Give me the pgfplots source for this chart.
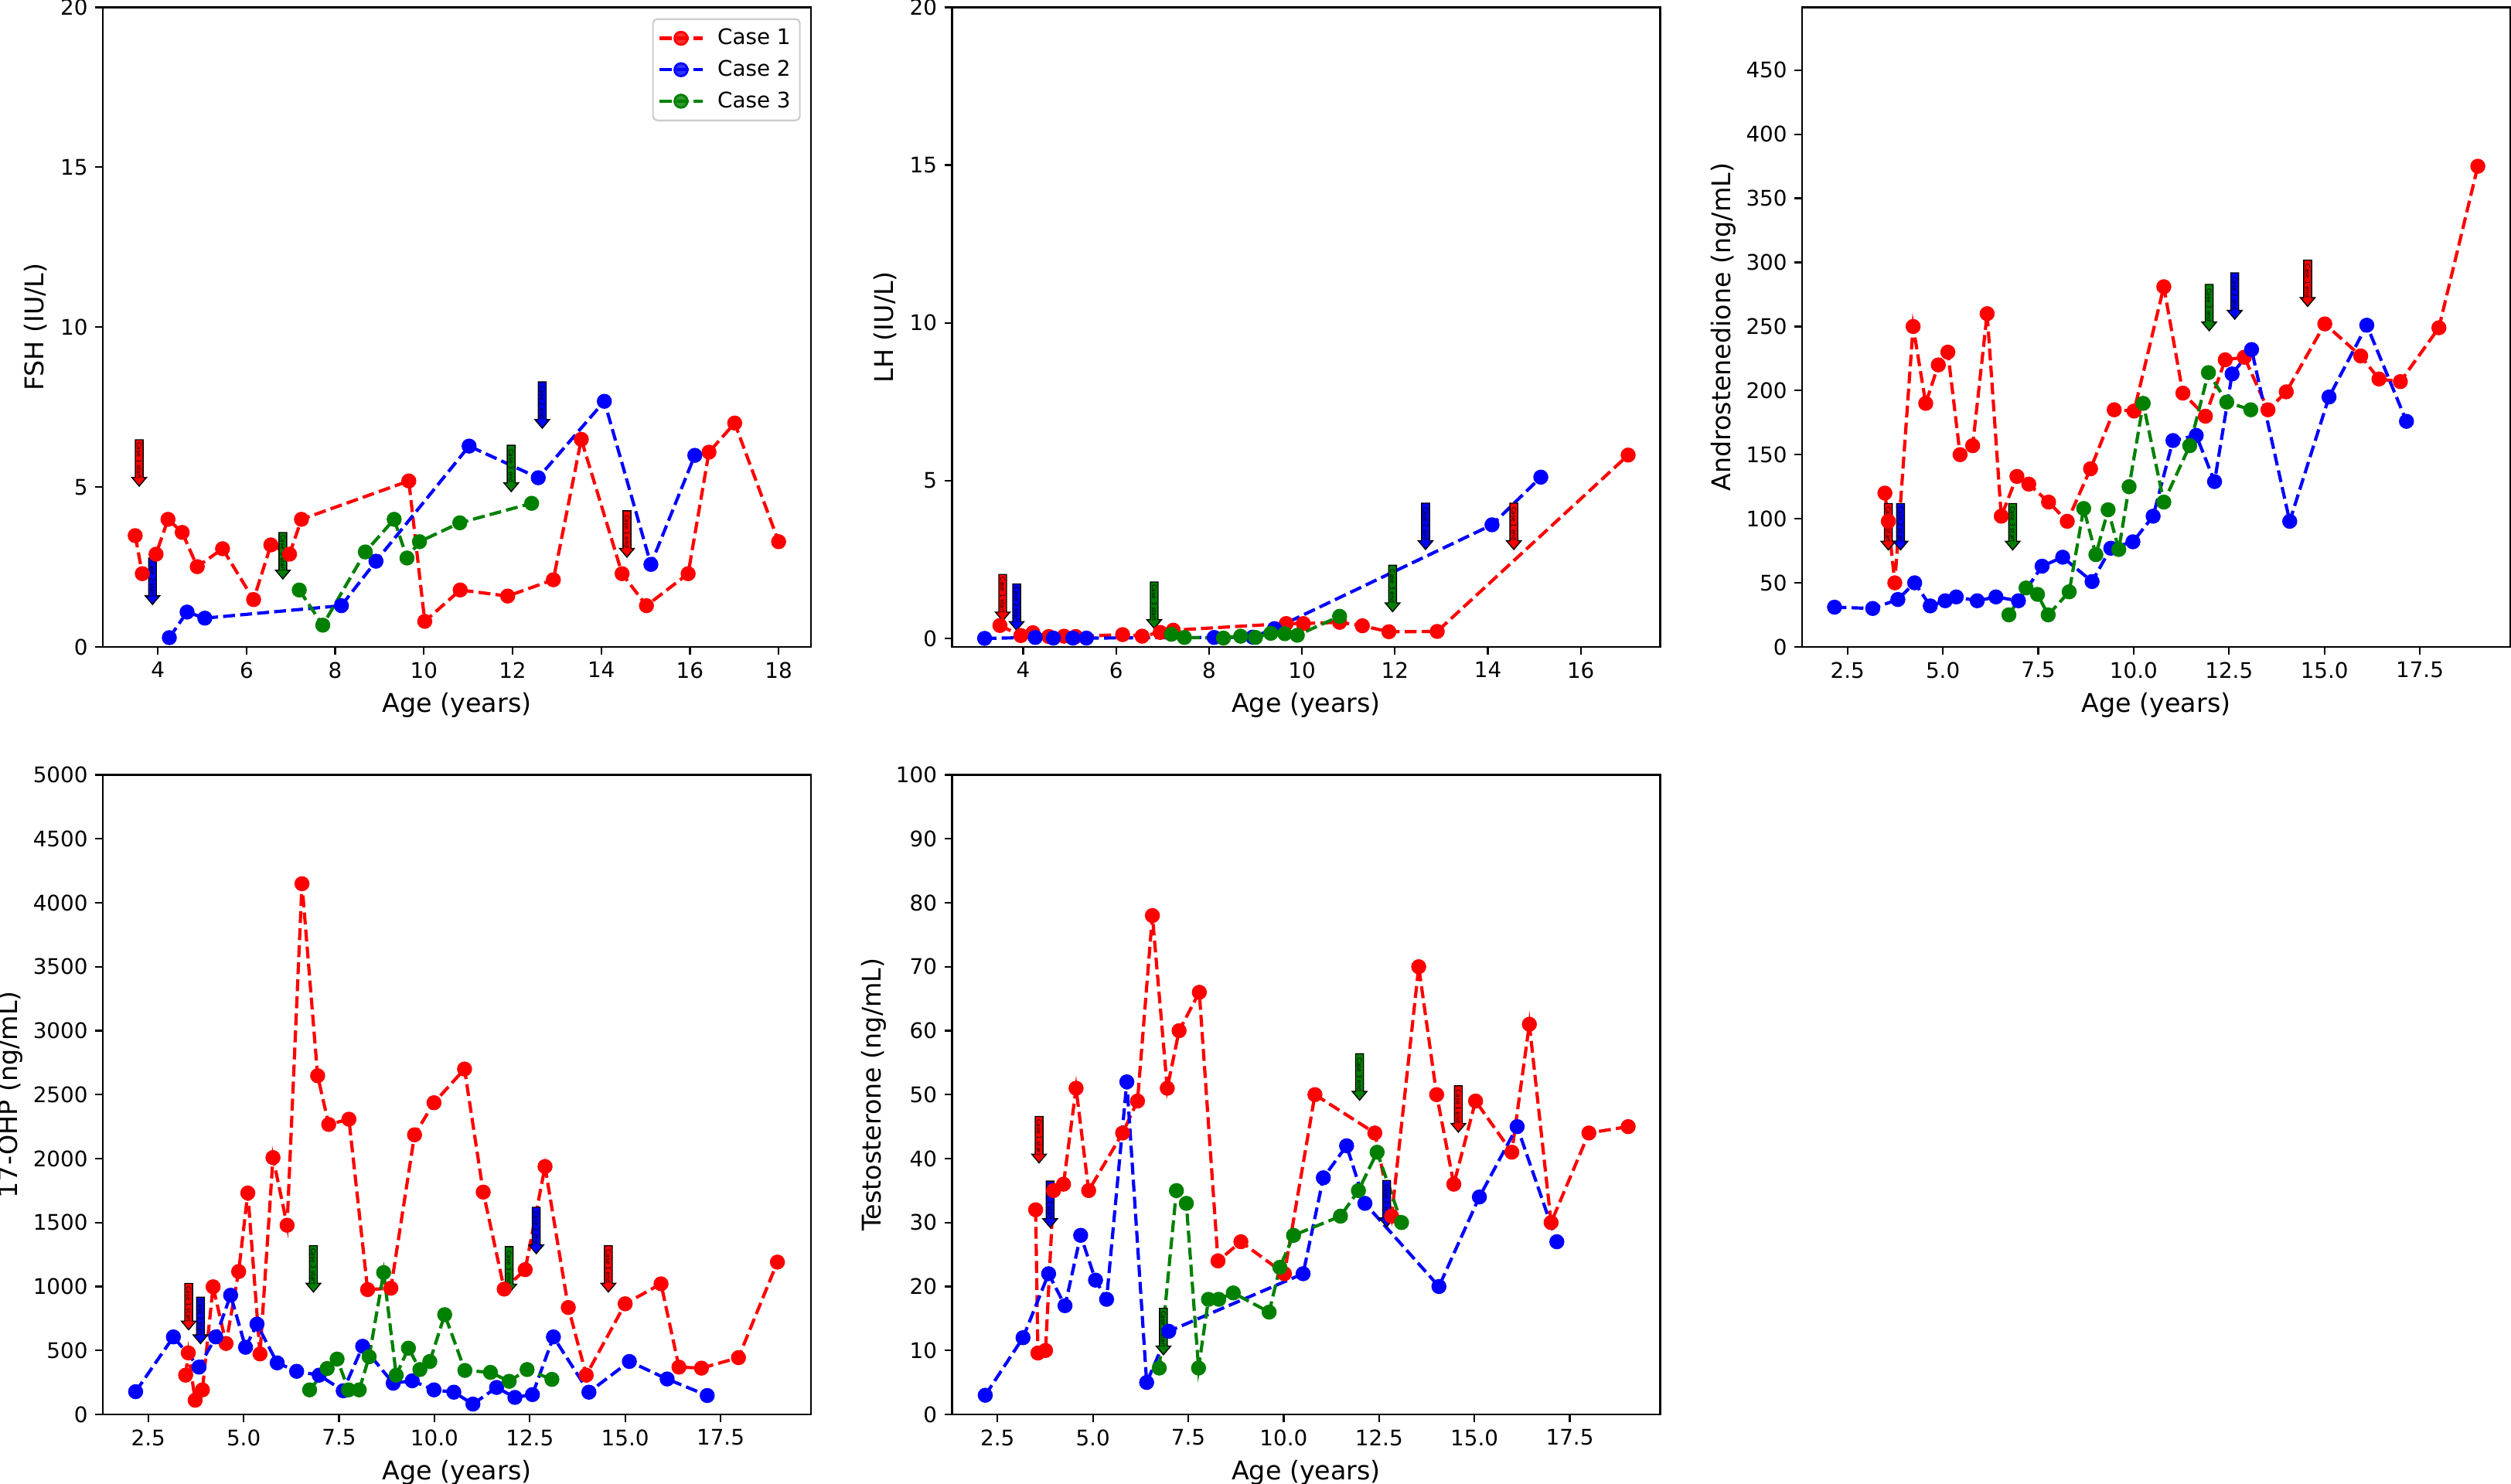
\documentclass[border=0pt]{standalone}
\usepackage{fontspec}
\setmainfont{DejaVu Sans}
\usepackage{pgfplots}
\pgfplotsset{compat=1.18}
\usetikzlibrary{shapes.arrows}
\definecolor{mplgreen}{rgb}{0,0.5,0}
\definecolor{legedge}{rgb}{0.8,0.8,0.8}

\tikzset{arrowsty/.style={single arrow, draw=black, line width=0.5bp, rotate=-90, anchor=tip,
  minimum height=21.6bp, inner sep=0.5bp, single arrow head extend=1.6bp,
  single arrow tip angle=80, font=\fontsize{2.8bp}{3bp}\selectfont, text=black}}
\newcommand{\arr}[4]{\node[arrowsty, fill=#1] at (axis cs:#2,#3) {Case #4};}

\pgfplotsset{
  base/.style={
    scale only axis, width=329.76bp, height=297.9bp, anchor=south west,
    axis line style={line width=0.8bp},
    every tick/.style={line width=0.8bp, black},
    tick align=outside, major tick length=3.5bp,
    xtick pos=left, ytick pos=left,
    /pgf/number format/assume math mode=true,
    /pgf/number format/1000 sep={},
    tick label style={font=\fontsize{10bp}{12bp}\selectfont},
    label style={font=\fontsize{12bp}{14bp}\selectfont},
    xlabel={Age (years)},
  },
  ylab/.style={ylabel style={at={(axis description cs:#1,0.5)}, anchor=south, inner sep=0pt}},
  decx/.style={xtick={2.5,5,7.5,10,12.5,15,17.5},
    xticklabel style={/pgf/number format/.cd, fixed, fixed zerofill, precision=1}},
  c1/.style={color=red, line width=1.5bp, dash pattern=on 5.55bp off 2.4bp, mark=*, mark size=3bp, mark options={solid, line width=1bp}},
  c2/.style={c1, color=blue},
  c3/.style={c1, color=mplgreen},
}

\begin{document}
\begin{tikzpicture}
\useasboundingbox (0,0) rectangle (1169.28bp,691.2bp);

% ---------------- FSH
\begin{axis}[base, at={(47.88bp,389.88bp)}, ylab=-0.0777,
  xmin=2.76, xmax=18.73, ymin=0, ymax=20,
  xtick={4,6,...,18}, ytick={0,5,...,20},
  ylabel={FSH (IU/L)},
  legend cell align=left,
  legend style={at={(rel axis cs:0.9855,0.983)}, anchor=north east, draw=legedge, line width=0.8bp,
    rounded corners=2bp, fill=white, fill opacity=0.8, text opacity=1,
    inner xsep=2.3bp, inner ysep=2.5bp, row sep=1.75bp, column sep=4.3bp,
    font=\fontsize{10bp}{12bp}\selectfont},
  legend image code/.code={\draw[#1, mark repeat=2, mark phase=2] plot coordinates {(0bp,0bp) (10bp,0bp) (20bp,0bp)};},
]
\addplot[c1] coordinates {(3.49,3.48) (3.65,2.29) (3.96,2.90) (4.23,3.99) (4.55,3.58) (4.89,2.51) (5.46,3.07) (6.16,1.48) (6.55,3.19) (6.97,2.90) (7.24,3.99) (9.66,5.19) (10.02,0.80) (10.82,1.78) (11.89,1.59) (12.92,2.10) (13.55,6.49) (14.47,2.29) (15.02,1.29) (15.96,2.29) (16.43,6.09) (17.01,7.00) (18.00,3.29)};
\addplot[c2] coordinates {(4.26,0.29) (4.66,1.09) (5.06,0.90) (8.14,1.29) (8.92,2.68) (11.02,6.28) (12.58,5.29) (14.07,7.68) (15.12,2.58) (16.11,5.99)};
\addplot[c3] coordinates {(7.19,1.78) (7.72,0.68) (8.68,2.97) (9.33,3.99) (9.62,2.78) (9.90,3.29) (10.81,3.88) (12.43,4.49)};
\legend{Case 1, Case 2, Case 3}
\arr{red}{3.58}{5.0}{1 start}
\arr{blue}{3.88}{1.30}{2 start}
\arr{mplgreen}{6.82}{2.10}{3 start}
\arr{mplgreen}{11.97}{4.83}{3 end}
\arr{blue}{12.67}{6.81}{2 end}
\arr{red}{14.58}{2.78}{1 end}
\end{axis}

% ---------------- LH
\begin{axis}[base, at={(443.34bp,389.88bp)}, ylab=-0.0777,
  xmin=2.47, xmax=17.71, ymin=-0.27, ymax=20,
  xtick={4,6,...,16}, ytick={0,5,...,20},
  ylabel={LH (IU/L)},
]
\addplot[c1] coordinates {(3.50,0.41) (3.95,0.09) (4.21,0.18) (4.55,0.06) (4.88,0.07) (5.13,0.06) (6.14,0.12) (6.56,0.07) (6.95,0.19) (7.23,0.26) (9.66,0.47) (10.03,0.47) (10.81,0.51) (11.30,0.40) (11.87,0.21) (12.91,0.22) (17.02,5.81)};
\addplot[c2] coordinates {(3.17,0.0) (4.26,0.03) (4.65,0.01) (5.07,0.01) (5.36,0.01) (8.11,0.03) (8.94,0.04) (9.41,0.31) (14.09,3.60) (15.14,5.11)};
\addplot[c3] coordinates {(7.19,0.13) (7.47,0.03) (8.31,0.01) (8.68,0.07) (9.00,0.03) (9.33,0.16) (9.63,0.15) (9.90,0.10) (10.81,0.70)};
\arr{red}{3.56}{0.53}{1 start}
\arr{blue}{3.86}{0.23}{2 start}
\arr{mplgreen}{6.82}{0.29}{3 start}
\arr{mplgreen}{11.95}{0.82}{3 end}
\arr{blue}{12.66}{2.79}{2 end}
\arr{red}{14.56}{2.79}{1 end}
\end{axis}

% ---------------- Androstenedione
\begin{axis}[base, decx, at={(839.16bp,389.88bp)}, ylab=-0.0928,
  xmin=1.31, xmax=19.87, ymin=0, ymax=499,
  ytick={0,50,...,450},
  ylabel={Androstenedione (ng/mL)},
]
\addplot[c1] coordinates {(3.48,120) (3.57,98) (3.74,50) (4.22,250) (4.55,190) (4.88,220) (5.13,230) (5.45,150) (5.78,157) (6.16,260) (6.53,102) (6.94,133) (7.25,127) (7.77,113) (8.26,98) (8.87,139) (9.49,185) (10.01,184) (10.79,281) (11.29,198) (11.88,180) (12.40,224) (12.90,226) (13.52,185) (14.00,199) (15.01,252) (15.95,227) (16.43,209) (16.99,207) (18.00,249) (19.02,375)};
\addplot[c2] coordinates {(2.16,31) (3.16,30) (3.82,37) (4.26,50) (4.67,32) (5.06,36) (5.35,39) (5.90,36) (6.39,39) (6.98,36) (7.60,63) (8.14,70) (8.91,51) (9.40,77) (9.98,82) (10.51,102) (11.03,161) (11.64,165) (12.12,129) (12.58,213) (13.09,232) (14.09,98) (15.12,195) (16.11,251) (17.15,176)};
\addplot[c3] coordinates {(6.73,25) (7.18,46) (7.48,41) (7.76,25) (8.31,43) (8.69,108) (9.01,72) (9.33,107) (9.61,76) (9.88,125) (10.25,190) (10.79,113) (11.47,157) (11.96,214) (12.44,191) (13.07,185)};
\arr{red}{3.57}{75}{1 start}
\arr{blue}{3.89}{75}{2 start}
\arr{mplgreen}{6.83}{75}{3 start}
\arr{mplgreen}{11.98}{246}{3 end}
\arr{blue}{12.65}{255}{2 end}
\arr{red}{14.56}{265}{1 end}
\end{axis}

% ---------------- 17-OHP
\begin{axis}[base, decx, at={(47.88bp,32.4bp)}, ylab=-0.1125,
  xmin=1.31, xmax=19.87, ymin=0, ymax=5000,
  ytick={0,500,...,5000},
  ylabel={17-OHP (ng/mL)},
]
\addplot[c1] coordinates {(3.48,307) (3.55,481) (3.73,111) (3.92,192) (4.20,998) (4.54,555) (4.87,1117) (5.11,1731) (5.43,473) (5.77,2008) (6.14,1479) (6.53,4149) (6.94,2648) (7.23,2267) (7.76,2308) (8.25,976) (8.86,987) (9.48,2186) (9.99,2437) (10.79,2700) (11.28,1738) (11.83,980) (12.38,1132) (12.90,1938) (13.51,836) (13.98,307) (15.00,865) (15.94,1021) (16.41,370) (17.00,362) (17.97,444) (18.99,1191)};
\addplot[c2] coordinates {(2.17,178) (3.16,606) (3.83,370) (4.27,606) (4.66,932) (5.05,525) (5.35,706) (5.88,403) (6.39,337) (6.98,307) (7.61,185) (8.12,533) (8.92,244) (9.42,263) (9.99,192) (10.51,174) (11.01,81) (11.63,211) (12.11,133) (12.57,155) (13.12,606) (14.05,174) (15.11,414) (16.10,277) (17.15,148)};
\addplot[c3] coordinates {(6.73,192) (7.19,359) (7.45,433) (7.75,192) (8.03,192) (8.29,451) (8.67,1109) (9.00,307) (9.32,518) (9.62,351) (9.88,414) (10.27,780) (10.80,344) (11.47,329) (11.96,259) (12.43,351) (13.08,274)};
\arr{red}{3.56}{655}{1 start}
\arr{blue}{3.87}{547}{2 start}
\arr{mplgreen}{6.83}{950}{3 start}
\arr{mplgreen}{11.96}{943}{3 end}
\arr{blue}{12.67}{1250}{2 end}
\arr{red}{14.56}{950}{1 end}
\end{axis}

% ---------------- Testosterone
\begin{axis}[base, decx, at={(443.34bp,32.4bp)}, ylab=-0.0928,
  xmin=1.31, xmax=19.87, ymin=0, ymax=100,
  ytick={0,10,...,100},
  ylabel={Testosterone (ng/mL)},
]
\addplot[c1] coordinates {(3.50,32) (3.56,9.6) (3.76,10) (3.97,35) (4.23,36) (4.56,51) (4.89,35) (5.78,44) (6.17,49) (6.56,78) (6.95,51) (7.26,60) (7.79,66) (8.28,24) (8.88,27) (10.02,22) (10.82,50) (12.39,44) (12.83,31) (13.54,70) (14.01,50) (14.46,36) (15.03,49) (15.98,41) (16.44,61) (17.01,30) (18.00,44) (19.03,45)};
\addplot[c2] coordinates {(2.18,3) (3.17,12) (3.84,22) (4.27,17) (4.68,28) (5.07,21) (5.36,18) (5.89,52) (6.41,5) (6.99,13) (10.51,22) (11.04,37) (11.65,42) (12.13,33) (14.07,20) (15.13,34) (16.12,45) (17.16,27)};
\addplot[c3] coordinates {(6.74,7.25) (7.19,35) (7.45,33) (7.77,7.25) (8.03,18) (8.30,18) (8.68,19) (9.62,16) (9.90,23) (10.26,28) (11.49,31) (11.96,35) (12.45,41) (13.09,30)};
\arr{red}{3.59}{39.2}{1 start}
\arr{blue}{3.88}{29.1}{2 start}
\arr{mplgreen}{6.85}{9.2}{3 start}
\arr{mplgreen}{11.99}{49.0}{3 end}
\arr{blue}{12.70}{29.2}{2 end}
\arr{red}{14.58}{44.0}{1 end}
\end{axis}
\end{tikzpicture}
\end{document}
